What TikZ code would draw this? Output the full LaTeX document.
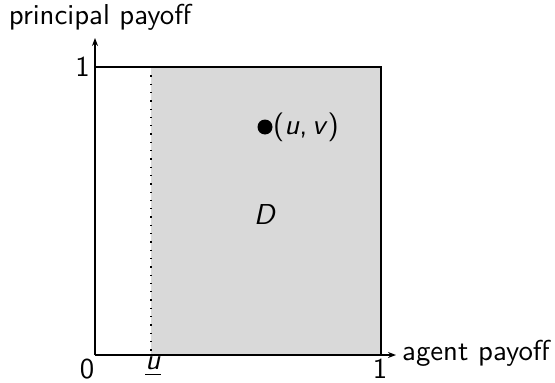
\documentclass[tikz,border=0pt]{standalone}
\usetikzlibrary{arrows.meta}
\newcommand{\bigtxt}[1]{\scalebox{2.88}{\fontsize{10}{12}\selectfont\sffamily #1}}
\begin{document}
\begin{tikzpicture}[x=1pt,y=-1pt,
  lbl/.style={inner sep=0pt},
  axis/.style={line width=1.8pt, -{Stealth[length=8pt,width=6pt]}},
  boxline/.style={line width=1.6pt}]
\useasboundingbox (0,0) rectangle (555,383);
\coordinate (O) at (95,355);
\coordinate (TL) at (95,67);
\coordinate (TR) at (381,67);
\coordinate (BR) at (381,355);
\coordinate (US) at (151,67);
\coordinate (UB) at (151,355);
\fill[gray!30] (US) rectangle (BR);
\draw[line width=1.3pt, dash pattern=on 1.3pt off 7pt] (US) -- (UB);
\draw[boxline] (TL) -- (TR) -- (BR);
\draw[axis] (O) -- (95,38) coordinate (YE);
\draw[axis] (O) -- (396,355) coordinate (XE);
\node[lbl, anchor=south] (ylab) at (100,31) {\bigtxt{principal payoff}};
\node[lbl, anchor=west] (xlab) at (402,353) {\bigtxt{agent payoff}};
\node[lbl, anchor=east] (one1) at (90,67) {\bigtxt{1}};
\node[lbl, anchor=north] (zero) at (87,359) {\bigtxt{0}};
\node[lbl, anchor=north] (one2) at (380,359) {\bigtxt{1}};
\node[lbl, anchor=north] (ub) at (153,357) {\bigtxt{\underline{\textsl{u}}}};
\fill (265,127) circle (7.5pt) coordinate (P);
\node[lbl, anchor=west] (uv) at (273,127) {\bigtxt{(\textsl{u},\,\textsl{v})}};
\node[lbl] (D) at (265,215) {\bigtxt{\textsl{D}}};
\end{tikzpicture}
\end{document}
